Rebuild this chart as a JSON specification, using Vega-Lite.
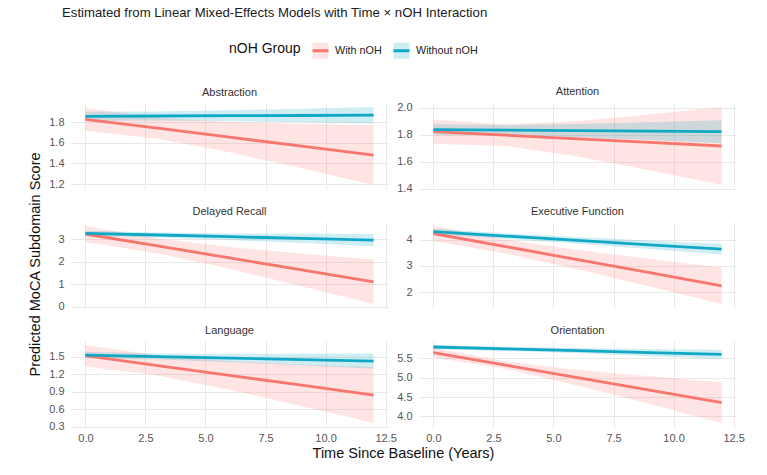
{
  "$schema": "https://vega.github.io/schema/vega-lite/v6.json",
  "background": "white",
  "padding": {"left": 27, "top": 5, "right": 5, "bottom": 5},
  "title": {"text": "Estimated from Linear Mixed-Effects Models with Time × nOH Interaction", "anchor": "start", "fontSize": 13.2, "fontWeight": "normal", "color": "#1a1a1a", "offset": 21, "dx": 35},
  "config": {
    "font": "Liberation Sans",
    "view": {"stroke": null},
    "axis": {"domain": false, "ticks": false, "grid": true, "gridColor": "#E9E9E9", "gridWidth": 1, "labelFontSize": 11, "labelColor": "#555555", "labelPadding": 7, "titleFontWeight": "normal", "titleFontSize": 14.5, "titleColor": "#111111"},
    "title": {"fontSize": 11, "fontWeight": "normal", "color": "#333333", "offset": 5}
  },
  "data": {"values": [
    {"d": "Abstraction", "g": "With nOH", "t": 0, "fit": 1.826, "lo": 1.716, "hi": 1.936},
    {"d": "Abstraction", "g": "With nOH", "t": 3, "fit": 1.740, "lo": 1.639, "hi": 1.841},
    {"d": "Abstraction", "g": "With nOH", "t": 6, "fit": 1.653, "lo": 1.507, "hi": 1.799},
    {"d": "Abstraction", "g": "With nOH", "t": 9, "fit": 1.567, "lo": 1.353, "hi": 1.781},
    {"d": "Abstraction", "g": "With nOH", "t": 12, "fit": 1.480, "lo": 1.190, "hi": 1.770},
    {"d": "Abstraction", "g": "Without nOH", "t": 0, "fit": 1.855, "lo": 1.810, "hi": 1.900},
    {"d": "Abstraction", "g": "Without nOH", "t": 3, "fit": 1.858, "lo": 1.815, "hi": 1.901},
    {"d": "Abstraction", "g": "Without nOH", "t": 6, "fit": 1.861, "lo": 1.809, "hi": 1.913},
    {"d": "Abstraction", "g": "Without nOH", "t": 9, "fit": 1.863, "lo": 1.798, "hi": 1.928},
    {"d": "Abstraction", "g": "Without nOH", "t": 12, "fit": 1.866, "lo": 1.786, "hi": 1.946},
    {"d": "Attention", "g": "With nOH", "t": 0, "fit": 1.824, "lo": 1.734, "hi": 1.914},
    {"d": "Attention", "g": "With nOH", "t": 3, "fit": 1.798, "lo": 1.718, "hi": 1.878},
    {"d": "Attention", "g": "With nOH", "t": 6, "fit": 1.771, "lo": 1.641, "hi": 1.901},
    {"d": "Attention", "g": "With nOH", "t": 9, "fit": 1.745, "lo": 1.539, "hi": 1.951},
    {"d": "Attention", "g": "With nOH", "t": 12, "fit": 1.718, "lo": 1.428, "hi": 2.008},
    {"d": "Attention", "g": "Without nOH", "t": 0, "fit": 1.840, "lo": 1.800, "hi": 1.880},
    {"d": "Attention", "g": "Without nOH", "t": 3, "fit": 1.836, "lo": 1.798, "hi": 1.874},
    {"d": "Attention", "g": "Without nOH", "t": 6, "fit": 1.832, "lo": 1.783, "hi": 1.881},
    {"d": "Attention", "g": "Without nOH", "t": 9, "fit": 1.828, "lo": 1.762, "hi": 1.894},
    {"d": "Attention", "g": "Without nOH", "t": 12, "fit": 1.824, "lo": 1.739, "hi": 1.909},
    {"d": "Delayed Recall", "g": "With nOH", "t": 0, "fit": 3.240, "lo": 2.880, "hi": 3.600},
    {"d": "Delayed Recall", "g": "With nOH", "t": 3, "fit": 2.708, "lo": 2.379, "hi": 3.036},
    {"d": "Delayed Recall", "g": "With nOH", "t": 6, "fit": 2.175, "lo": 1.689, "hi": 2.661},
    {"d": "Delayed Recall", "g": "With nOH", "t": 9, "fit": 1.643, "lo": 0.917, "hi": 2.368},
    {"d": "Delayed Recall", "g": "With nOH", "t": 12, "fit": 1.110, "lo": 0.120, "hi": 2.100},
    {"d": "Delayed Recall", "g": "Without nOH", "t": 0, "fit": 3.270, "lo": 3.150, "hi": 3.390},
    {"d": "Delayed Recall", "g": "Without nOH", "t": 3, "fit": 3.195, "lo": 3.083, "hi": 3.308},
    {"d": "Delayed Recall", "g": "Without nOH", "t": 6, "fit": 3.120, "lo": 2.970, "hi": 3.270},
    {"d": "Delayed Recall", "g": "Without nOH", "t": 9, "fit": 3.045, "lo": 2.838, "hi": 3.252},
    {"d": "Delayed Recall", "g": "Without nOH", "t": 12, "fit": 2.970, "lo": 2.700, "hi": 3.240},
    {"d": "Executive Function", "g": "With nOH", "t": 0, "fit": 4.240, "lo": 3.950, "hi": 4.530},
    {"d": "Executive Function", "g": "With nOH", "t": 3, "fit": 3.740, "lo": 3.471, "hi": 4.010},
    {"d": "Executive Function", "g": "With nOH", "t": 6, "fit": 3.240, "lo": 2.868, "hi": 3.612},
    {"d": "Executive Function", "g": "With nOH", "t": 9, "fit": 2.740, "lo": 2.212, "hi": 3.268},
    {"d": "Executive Function", "g": "With nOH", "t": 12, "fit": 2.240, "lo": 1.540, "hi": 2.940},
    {"d": "Executive Function", "g": "Without nOH", "t": 0, "fit": 4.310, "lo": 4.200, "hi": 4.420},
    {"d": "Executive Function", "g": "Without nOH", "t": 3, "fit": 4.143, "lo": 4.037, "hi": 4.248},
    {"d": "Executive Function", "g": "Without nOH", "t": 6, "fit": 3.975, "lo": 3.847, "hi": 4.103},
    {"d": "Executive Function", "g": "Without nOH", "t": 9, "fit": 3.808, "lo": 3.645, "hi": 3.970},
    {"d": "Executive Function", "g": "Without nOH", "t": 12, "fit": 3.640, "lo": 3.440, "hi": 3.840},
    {"d": "Language", "g": "With nOH", "t": 0, "fit": 1.517, "lo": 1.332, "hi": 1.702},
    {"d": "Language", "g": "With nOH", "t": 3, "fit": 1.349, "lo": 1.179, "hi": 1.519},
    {"d": "Language", "g": "With nOH", "t": 6, "fit": 1.181, "lo": 0.937, "hi": 1.425},
    {"d": "Language", "g": "With nOH", "t": 9, "fit": 1.013, "lo": 0.657, "hi": 1.369},
    {"d": "Language", "g": "With nOH", "t": 12, "fit": 0.845, "lo": 0.365, "hi": 1.325},
    {"d": "Language", "g": "Without nOH", "t": 0, "fit": 1.528, "lo": 1.473, "hi": 1.583},
    {"d": "Language", "g": "Without nOH", "t": 3, "fit": 1.503, "lo": 1.452, "hi": 1.554},
    {"d": "Language", "g": "Without nOH", "t": 6, "fit": 1.477, "lo": 1.407, "hi": 1.547},
    {"d": "Language", "g": "Without nOH", "t": 9, "fit": 1.452, "lo": 1.353, "hi": 1.550},
    {"d": "Language", "g": "Without nOH", "t": 12, "fit": 1.426, "lo": 1.296, "hi": 1.556},
    {"d": "Orientation", "g": "With nOH", "t": 0, "fit": 5.647, "lo": 5.527, "hi": 5.767},
    {"d": "Orientation", "g": "With nOH", "t": 3, "fit": 5.324, "lo": 5.225, "hi": 5.424},
    {"d": "Orientation", "g": "With nOH", "t": 6, "fit": 5.001, "lo": 4.799, "hi": 5.203},
    {"d": "Orientation", "g": "With nOH", "t": 9, "fit": 4.678, "lo": 4.320, "hi": 5.036},
    {"d": "Orientation", "g": "With nOH", "t": 12, "fit": 4.355, "lo": 3.825, "hi": 4.885},
    {"d": "Orientation", "g": "Without nOH", "t": 0, "fit": 5.795, "lo": 5.740, "hi": 5.850},
    {"d": "Orientation", "g": "Without nOH", "t": 3, "fit": 5.747, "lo": 5.695, "hi": 5.799},
    {"d": "Orientation", "g": "Without nOH", "t": 6, "fit": 5.700, "lo": 5.632, "hi": 5.768},
    {"d": "Orientation", "g": "Without nOH", "t": 9, "fit": 5.652, "lo": 5.559, "hi": 5.745},
    {"d": "Orientation", "g": "Without nOH", "t": 12, "fit": 5.604, "lo": 5.484, "hi": 5.724}
  ]},
  "columns": 2,
  "spacing": {"row": 33, "column": 31},
  "bounds": "flush",
  "concat": [
    {
      "width": 317, "height": 86,
      "title": {"text": "Abstraction"},
      "transform": [{"filter": "datum.d === 'Abstraction'"}],
      "layer": [
        {"mark": {"type": "area", "fillOpacity": 0.2, "strokeWidth": 0},
         "encoding": {
           "x": {"field": "t", "type": "quantitative", "scale": {"domain": [-0.6, 12.6], "nice": false, "zero": false}, "axis": {"values": [0, 2.5, 5, 7.5, 10, 12.5], "labels": false, "title": null}},
           "y": {"field": "lo", "type": "quantitative", "scale": {"domain": [1.152, 1.984], "nice": false, "zero": false}, "axis": {"values": [1.2, 1.4, 1.6, 1.8], "format": ".1f", "title": "Predicted MoCA Subdomain Score", "titleX": -36, "titleY": 161, "titleAngle": 270, "titleBaseline": "middle", "titleAlign": "center"}},
           "y2": {"field": "hi"},
           "fill": {"field": "g", "type": "nominal", "scale": {"domain": ["With nOH", "Without nOH"], "range": ["#F8766D", "#11A8C6"]},
             "legend": {"orient": "none", "legendX": 158, "legendY": -62, "direction": "horizontal", "title": "nOH Group", "titleOrient": "left", "titleFontSize": 14, "titleFontWeight": "normal", "titleColor": "#111111", "titlePadding": 10, "labelFontSize": 10.8, "labelColor": "#222222", "labelOffset": 5, "columnPadding": 5, "symbolType": "square", "symbolSize": 256, "symbolOpacity": 0.2, "symbolStrokeWidth": 3, "symbolStrokeColor": "transparent", "labelOpacity": 0, "titleOpacity": 0, "zindex": 1}}
         }},
        {"mark": {"type": "line", "strokeWidth": 2.8},
         "encoding": {
           "x": {"field": "t", "type": "quantitative", "axis": {"orient": "top", "values": [1.25, 3.75, 6.25, 8.75, 11.25], "labels": false, "title": null, "gridColor": "#F2F2F2", "gridWidth": 0.7}},
           "y": {"field": "fit", "type": "quantitative", "axis": {"orient": "right", "values": [1.3, 1.5, 1.7, 1.9], "labels": false, "title": null, "gridColor": "#F2F2F2", "gridWidth": 0.7}},
           "stroke": {"field": "g", "type": "nominal", "scale": {"range": ["#F8766D", "#11A8C6"]},
             "legend": {"orient": "none", "legendX": 158, "legendY": -62, "direction": "horizontal", "title": "nOH Group", "titleOrient": "left", "titleFontSize": 14, "titleFontWeight": "normal", "titleColor": "#111111", "titlePadding": 10, "labelFontSize": 10.8, "labelColor": "#222222", "labelOffset": 5, "columnPadding": 5, "symbolType": "stroke", "symbolSize": 256, "symbolStrokeWidth": 3, "zindex": 2}}
         }}
      ],
      "resolve": {"axis": {"x": "independent", "y": "independent"}}
    },
    {
      "width": 317, "height": 86,
      "title": {"text": "Attention"},
      "transform": [{"filter": "datum.d === 'Attention'"}],
      "layer": [
        {"mark": {"type": "area", "fillOpacity": 0.2, "strokeWidth": 0},
         "encoding": {
           "x": {"field": "t", "type": "quantitative", "scale": {"domain": [-0.6, 12.6], "nice": false, "zero": false}, "axis": {"values": [0, 2.5, 5, 7.5, 10, 12.5], "labels": false, "title": null}},
           "y": {"field": "lo", "type": "quantitative", "scale": {"domain": [1.399, 2.037], "nice": false, "zero": false}, "axis": {"values": [1.4, 1.6, 1.8, 2.0], "format": ".1f", "title": null}},
           "y2": {"field": "hi"},
           "fill": {"field": "g", "type": "nominal"}
         }},
        {"mark": {"type": "line", "strokeWidth": 2.8},
         "encoding": {
           "x": {"field": "t", "type": "quantitative", "axis": {"orient": "top", "values": [1.25, 3.75, 6.25, 8.75, 11.25], "labels": false, "title": null, "gridColor": "#F2F2F2", "gridWidth": 0.7}},
           "y": {"field": "fit", "type": "quantitative", "axis": {"orient": "right", "values": [1.5, 1.7, 1.9], "labels": false, "title": null, "gridColor": "#F2F2F2", "gridWidth": 0.7}},
           "stroke": {"field": "g", "type": "nominal"}
         }}
      ],
      "resolve": {"axis": {"x": "independent", "y": "independent"}}
    },
    {
      "width": 317, "height": 86,
      "title": {"text": "Delayed Recall"},
      "transform": [{"filter": "datum.d === 'Delayed Recall'"}],
      "layer": [
        {"mark": {"type": "area", "fillOpacity": 0.2, "strokeWidth": 0},
         "encoding": {
           "x": {"field": "t", "type": "quantitative", "scale": {"domain": [-0.6, 12.6], "nice": false, "zero": false}, "axis": {"values": [0, 2.5, 5, 7.5, 10, 12.5], "labels": false, "title": null}},
           "y": {"field": "lo", "type": "quantitative", "scale": {"domain": [-0.054, 3.774], "nice": false, "zero": false}, "axis": {"values": [0, 1, 2, 3], "format": "d", "title": null}},
           "y2": {"field": "hi"},
           "fill": {"field": "g", "type": "nominal"}
         }},
        {"mark": {"type": "line", "strokeWidth": 2.8},
         "encoding": {
           "x": {"field": "t", "type": "quantitative", "axis": {"orient": "top", "values": [1.25, 3.75, 6.25, 8.75, 11.25], "labels": false, "title": null, "gridColor": "#F2F2F2", "gridWidth": 0.7}},
           "y": {"field": "fit", "type": "quantitative", "axis": {"orient": "right", "values": [0.5, 1.5, 2.5, 3.5], "labels": false, "title": null, "gridColor": "#F2F2F2", "gridWidth": 0.7}},
           "stroke": {"field": "g", "type": "nominal"}
         }}
      ],
      "resolve": {"axis": {"x": "independent", "y": "independent"}}
    },
    {
      "width": 317, "height": 86,
      "title": {"text": "Executive Function"},
      "transform": [{"filter": "datum.d === 'Executive Function'"}],
      "layer": [
        {"mark": {"type": "area", "fillOpacity": 0.2, "strokeWidth": 0},
         "encoding": {
           "x": {"field": "t", "type": "quantitative", "scale": {"domain": [-0.6, 12.6], "nice": false, "zero": false}, "axis": {"values": [0, 2.5, 5, 7.5, 10, 12.5], "labels": false, "title": null}},
           "y": {"field": "lo", "type": "quantitative", "scale": {"domain": [1.39, 4.68], "nice": false, "zero": false}, "axis": {"values": [2, 3, 4], "format": "d", "title": null}},
           "y2": {"field": "hi"},
           "fill": {"field": "g", "type": "nominal"}
         }},
        {"mark": {"type": "line", "strokeWidth": 2.8},
         "encoding": {
           "x": {"field": "t", "type": "quantitative", "axis": {"orient": "top", "values": [1.25, 3.75, 6.25, 8.75, 11.25], "labels": false, "title": null, "gridColor": "#F2F2F2", "gridWidth": 0.7}},
           "y": {"field": "fit", "type": "quantitative", "axis": {"orient": "right", "values": [1.5, 2.5, 3.5, 4.5], "labels": false, "title": null, "gridColor": "#F2F2F2", "gridWidth": 0.7}},
           "stroke": {"field": "g", "type": "nominal"}
         }}
      ],
      "resolve": {"axis": {"x": "independent", "y": "independent"}}
    },
    {
      "width": 317, "height": 86,
      "title": {"text": "Language"},
      "transform": [{"filter": "datum.d === 'Language'"}],
      "layer": [
        {"mark": {"type": "area", "fillOpacity": 0.2, "strokeWidth": 0},
         "encoding": {
           "x": {"field": "t", "type": "quantitative", "scale": {"domain": [-0.6, 12.6], "nice": false, "zero": false}, "axis": {"values": [0, 2.5, 5, 7.5, 10, 12.5], "format": ".1f", "labelPadding": 5, "title": "Time Since Baseline (Years)", "titleX": 332, "titlePadding": 3, "titleAlign": "center"}},
           "y": {"field": "lo", "type": "quantitative", "scale": {"domain": [0.298, 1.769], "nice": false, "zero": false}, "axis": {"values": [0.3, 0.6, 0.9, 1.2, 1.5], "format": ".1f", "title": null}},
           "y2": {"field": "hi"},
           "fill": {"field": "g", "type": "nominal"}
         }},
        {"mark": {"type": "line", "strokeWidth": 2.8},
         "encoding": {
           "x": {"field": "t", "type": "quantitative", "axis": {"orient": "top", "values": [1.25, 3.75, 6.25, 8.75, 11.25], "labels": false, "title": null, "gridColor": "#F2F2F2", "gridWidth": 0.7}},
           "y": {"field": "fit", "type": "quantitative", "axis": {"orient": "right", "values": [0.45, 0.75, 1.05, 1.35, 1.65], "labels": false, "title": null, "gridColor": "#F2F2F2", "gridWidth": 0.7}},
           "stroke": {"field": "g", "type": "nominal"}
         }}
      ],
      "resolve": {"axis": {"x": "independent", "y": "independent"}}
    },
    {
      "width": 317, "height": 86,
      "title": {"text": "Orientation"},
      "transform": [{"filter": "datum.d === 'Orientation'"}],
      "layer": [
        {"mark": {"type": "area", "fillOpacity": 0.2, "strokeWidth": 0},
         "encoding": {
           "x": {"field": "t", "type": "quantitative", "scale": {"domain": [-0.6, 12.6], "nice": false, "zero": false}, "axis": {"values": [0, 2.5, 5, 7.5, 10, 12.5], "format": ".1f", "labelPadding": 5, "title": null}},
           "y": {"field": "lo", "type": "quantitative", "scale": {"domain": [3.724, 5.951], "nice": false, "zero": false}, "axis": {"values": [4.0, 4.5, 5.0, 5.5], "format": ".1f", "title": null}},
           "y2": {"field": "hi"},
           "fill": {"field": "g", "type": "nominal"}
         }},
        {"mark": {"type": "line", "strokeWidth": 2.8},
         "encoding": {
           "x": {"field": "t", "type": "quantitative", "axis": {"orient": "top", "values": [1.25, 3.75, 6.25, 8.75, 11.25], "labels": false, "title": null, "gridColor": "#F2F2F2", "gridWidth": 0.7}},
           "y": {"field": "fit", "type": "quantitative", "axis": {"orient": "right", "values": [3.75, 4.25, 4.75, 5.25, 5.75], "labels": false, "title": null, "gridColor": "#F2F2F2", "gridWidth": 0.7}},
           "stroke": {"field": "g", "type": "nominal"}
         }}
      ],
      "resolve": {"axis": {"x": "independent", "y": "independent"}}
    }
  ]
}
